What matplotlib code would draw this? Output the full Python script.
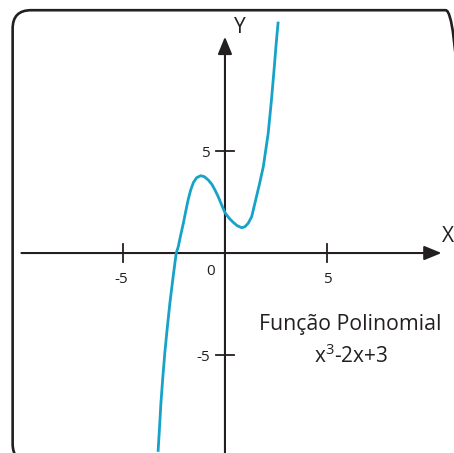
import matplotlib
matplotlib.use("Agg")
import matplotlib.pyplot as plt
from matplotlib.patches import FancyArrowPatch, FancyBboxPatch, ArrowStyle

plt.rcParams['font.family'] = ['Open Sans', 'DejaVu Sans']
plt.rcParams['mathtext.fontset'] = 'custom'
plt.rcParams['mathtext.rm'] = 'Open Sans'
plt.rcParams['mathtext.it'] = 'Open Sans'

# Sampled points of the polynomial curve
curve_x = [-3.28, -3.21, -3.14, -3.05, -2.95, -2.83, -2.70, -2.55, -2.39, -2.29,
           -2.17, -2.04, -1.91, -1.80, -1.68, -1.55, -1.39, -1.19, -1.01, -0.82,
           -0.65, -0.49, -0.33, -0.16, 0.00, 0.21, 0.41, 0.60, 0.82, 0.98,
           1.14, 1.31, 1.47, 1.68, 1.88, 2.12, 2.28, 2.42, 2.51, 2.61]
curve_y = [-9.74, -8.58, -7.35, -6.13, -4.90, -3.68, -2.45, -1.23, 0.00, 0.31,
           0.88, 1.46, 2.11, 2.63, 3.09, 3.45, 3.69, 3.79, 3.74, 3.58,
           3.38, 3.09, 2.76, 2.35, 1.98, 1.70, 1.50, 1.34, 1.24, 1.29,
           1.46, 1.78, 2.45, 3.33, 4.23, 5.87, 7.50, 9.13, 10.25, 11.34]

x_ticks = [-5, 5]
y_ticks = [5, -5]
x_tick_labels = ['-5', '5']
y_tick_labels = ['5', '-5']
title_lines = ['Função Polinomial', 'x$^{3}$-2x+3']

AXIS = '#231f20'
CURVE = '#17a2c8'

fig = plt.figure(figsize=(4.54, 4.53), dpi=100)
ax = fig.add_axes([0, 0, 1, 1])
ax.set_xlim(-11.03, 11.23)
ax.set_ylim(-9.80, 12.40)
ax.axis('off')

# rounded frame
frame = FancyBboxPatch((-10.41, -10.25), 22.13, 22.15,
                       boxstyle='round,pad=0,rounding_size=0.9',
                       fill=False, edgecolor=AXIS, linewidth=1.9,
                       clip_on=False)
ax.add_patch(frame)

# axes with arrow heads
style = ArrowStyle('-|>', head_length=10.5, head_width=4.3)
ax.add_patch(FancyArrowPatch((-9.98, 0), (10.62, 0), arrowstyle=style,
                             mutation_scale=1, color=AXIS, linewidth=1.5,
                             shrinkA=0, shrinkB=0))
ax.add_patch(FancyArrowPatch((0, -10.5), (0, 10.6), arrowstyle=style,
                             mutation_scale=1, color=AXIS, linewidth=1.5,
                             shrinkA=0, shrinkB=0))

# tick marks
t = 0.46
for xv in x_ticks:
    ax.plot([xv, xv], [-t, t], color=AXIS, linewidth=1.3)
for yv in y_ticks:
    ax.plot([-t, t], [yv, yv], color=AXIS, linewidth=1.3)

# curve
ax.plot(curve_x, curve_y, color=CURVE, linewidth=2.0,
        solid_capstyle='butt', solid_joinstyle='round')

fs_tick = 11
for xv, lab in zip(x_ticks, x_tick_labels):
    ax.text(xv - 0.1 if xv < 0 else xv, -1.46, lab, ha='center', va='baseline',
            fontsize=fs_tick, color=AXIS)
ax.text(-0.70, -1.08, '0', ha='center', va='baseline', fontsize=fs_tick, color=AXIS)
for yv, lab in zip(y_ticks, y_tick_labels):
    ax.text(-0.75, yv - 0.28, lab, ha='right', va='baseline',
            fontsize=fs_tick, color=AXIS)

ax.text(0.74, 10.77, 'Y', ha='center', va='baseline', fontsize=15, color=AXIS)
ax.text(10.64, 0.55, 'X', ha='left', va='baseline', fontsize=15, color=AXIS,
        clip_on=False)

ax.text(6.13, -3.77, title_lines[0], ha='center', va='baseline', fontsize=15.3, color=AXIS)
ax.text(6.20, -5.39, title_lines[1], ha='center', va='baseline', fontsize=15, color=AXIS)

fig.savefig('out.png', dpi=100)
